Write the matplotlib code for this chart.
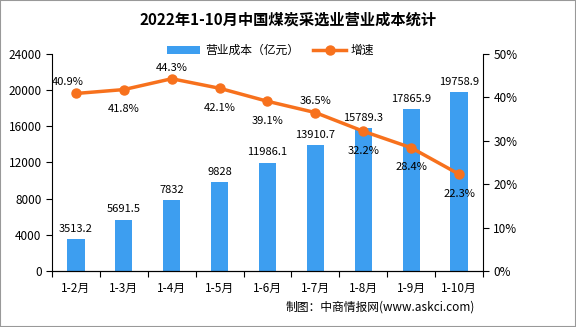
import matplotlib.pyplot as plt
import numpy as np
from matplotlib.ticker import FuncFormatter

plt.rcParams['font.family'] = ['Noto Sans CJK SC', 'DejaVu Sans']

months = ['1-2月', '1-3月', '1-4月', '1-5月', '1-6月', '1-7月', '1-8月', '1-9月', '1-10月']
cost = [3513.2, 5691.5, 7832, 9828, 11986.1, 13910.7, 15789.3, 17865.9, 19758.9]
growth = [40.9, 41.8, 44.3, 42.1, 39.1, 36.5, 32.2, 28.4, 22.3]
cost_labels = ['3513.2', '5691.5', '7832', '9828', '11986.1', '13910.7', '15789.3', '17865.9', '19758.9']
# label offsets for growth rates (points)
g_off = [(-6, 8), (0, -14), (0, 8), (0, -14), (0, -14), (0, 8), (0, -14), (0, -14), (0, -14)]

bar_c = '#3d9ef0'
line_c = '#f7711d'

fig = plt.figure(figsize=(5.76, 3.27), dpi=100)
ax = fig.add_axes([0.0903, 0.1713, 0.7482, 0.6636])
x = np.arange(len(months))

ax.bar(x, cost, width=0.36, color=bar_c, label='营业成本（亿元）', zorder=2)
for i, v in enumerate(cost):
    ax.annotate(cost_labels[i], (x[i], v), xytext=(0, 4), textcoords='offset points',
                ha='center', va='bottom', fontsize=8)

ax.set_ylim(0, 24000)
ax.set_yticks(np.arange(0, 24001, 4000))
ax.set_xlim(-0.5, len(months) - 0.5)
ax.set_xticks(np.arange(-0.5, len(months)), labels=[''] * (len(months) + 1))
ax.set_xticks(x, labels=months, minor=True)
ax.tick_params(axis='x', which='minor', length=0, pad=8, labelsize=8.5)
ax.tick_params(axis='x', which='major', length=4, direction='out')
ax.tick_params(axis='y', labelsize=8.5, length=4, direction='out')
ax.spines['top'].set_visible(False)
ax.spines['right'].set_visible(False)

ax2 = ax.twinx()
ax2.plot(x, growth, color=line_c, lw=2.5, marker='o', ms=6.5, label='增速', zorder=3)
for i, g in enumerate(growth):
    ax2.annotate(f'{g}%', (x[i], g), xytext=g_off[i], textcoords='offset points',
                 ha='center', va='center', fontsize=8)
ax2.set_ylim(0, 50)
ax2.set_yticks(np.arange(0, 51, 10))
ax2.yaxis.set_major_formatter(FuncFormatter(lambda v, p: f'{int(v)}%'))
ax2.tick_params(axis='y', labelsize=8.5, length=4, direction='out')
ax2.spines['top'].set_visible(False)
ax2.spines['left'].set_visible(False)

fig.suptitle('2022年1-10月中国煤炭采选业营业成本统计', y=0.965, fontsize=11, fontweight='bold')

h1, l1 = ax.get_legend_handles_labels()
h2, l2 = ax2.get_legend_handles_labels()
fig.legend(h1 + h2, l1 + l2, loc='center', bbox_to_anchor=(0.47, 0.845), ncol=2,
           frameon=False, fontsize=8.5, handlelength=2.8, columnspacing=1.2,
           handletextpad=0.4)

fig.text(0.825, 0.05, '制图：中商情报网(www.askci.com)', ha='right', fontsize=8.5)

fig.patches.append(plt.Rectangle((0, 0), 1, 1, transform=fig.transFigure, fill=False,
                                 edgecolor='#999999', lw=1.5))

fig.savefig('out.png', dpi=100)
